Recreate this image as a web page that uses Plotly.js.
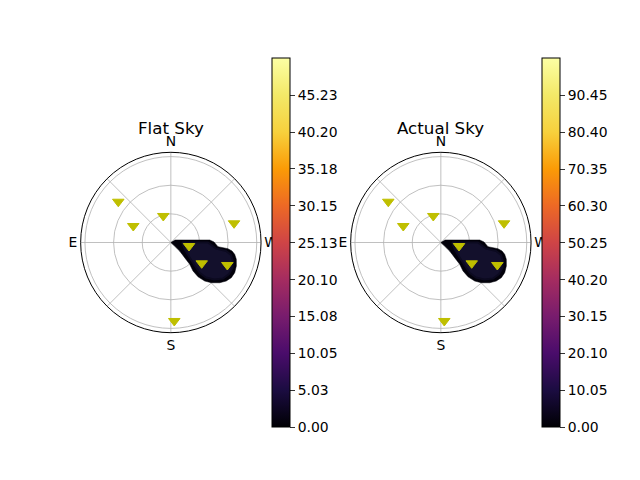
<!DOCTYPE html>
<html>
<head>
<meta charset="utf-8">
<script src="https://cdn.plot.ly/plotly-3.0.1.min.js"></script>
<style>html,body{margin:0;padding:0;background:#fff;}#chart{width:640px;height:480px;}</style>
</head>
<body>
<div id="chart"></div>
<script>
// ---- data ----
const panelTitles = ['Flat Sky', 'Actual Sky'];
const compassVals = [0, 45, 90, 135, 180, 225, 270, 315];
const compassText = ['N', '', 'E', '', 'S', '', 'W', ''];
const radialTicks = [30, 60, 90];
const radialMax = 94.5;

// yellow triangle markers (theta in deg from N toward E, r = zenith distance)
const markerTheta = [52.2, 66.3, 15.9, 286.9, 259.1, 236.0, 248.3, 182.5];
const markerR     = [69.7, 43.0, 28.9, 69.2, 19.4, 39.0, 63.7, 82.3];

// dark filled-contour blob: outer boundary (lowest level)
const blobTheta = [270, 301.1, 280.0, 275.9, 273.7, 270.7, 264.9, 264.3, 263.8, 262.1, 259.5, 255.6, 250.3, 244.7, 239.8, 235.2, 230.5, 225.2, 221.3, 218.4, 217.9, 220.9, 222.3, 226.2, 227.7, 270];
const blobR     = [0, 5.1, 15.1, 25.4, 40.8, 45.2, 49.6, 54.9, 60.2, 64.7, 68.0, 70.8, 72.9, 74.0, 73.3, 70.7, 66.3, 59.8, 53.7, 45.8, 37.8, 30.2, 21.5, 12.9, 5.5, 0];
// inner (next level) region
const coreTheta = [270, 270, 262.4, 261.2, 258.3, 253.4, 247.5, 241.6, 235.4, 229.4, 225.1, 223.7, 225.8, 231.0, 242.1, 270];
const coreR     = [11.7, 38.9, 47.7, 58.5, 64.4, 67.9, 69.9, 69.3, 66.4, 59.6, 52.0, 44.2, 35.3, 25.8, 16.8, 11.7];

// colorbar ranges and tick labels
const flatMax = 50.25;
const flatTicks = [0, 5.03, 10.05, 15.08, 20.10, 25.13, 30.15, 35.18, 40.20, 45.23];
const actualMax = 100.5;
const actualTicks = [0, 10.05, 20.10, 30.15, 40.20, 50.25, 60.30, 70.35, 80.40, 90.45];

const inferno = [
  [0.0, '#000004'], [0.1, '#1b0c41'], [0.2, '#4a0c6b'], [0.3, '#781c6d'],
  [0.4, '#a52c60'], [0.5, '#cf4446'], [0.6, '#ed6925'], [0.7, '#fb9b06'],
  [0.8, '#f7d13d'], [0.9, '#f3e968'], [1.0, '#fcffa4']
];

const FONT = 'DejaVu Sans, sans-serif';
const panels = [
  {sub: 'polar', dom: [80.65/640, 261.05/640], cbx: 272.3/640, max: flatMax, ticks: flatTicks, cx: 170.85/640},
  {sub: 'polar2', dom: [350.65/640, 531.05/640], cbx: 542.3/640, max: actualMax, ticks: actualTicks, cx: 440.85/640}
];

const traces = [];
const layout = {
  width: 640, height: 480,
  margin: {l: 0, r: 0, t: 0, b: 0},
  paper_bgcolor: '#fff',
  showlegend: false,
  font: {family: FONT, color: '#000', size: 13.9},
  annotations: []
};

panels.forEach((p, i) => {
  traces.push({
    type: 'scatterpolar', subplot: p.sub, mode: 'lines',
    theta: blobTheta, r: blobR, fill: 'toself',
    fillcolor: '#02010a', line: {color: '#02010a', width: 0.5}, hoverinfo: 'skip'
  });
  traces.push({
    type: 'scatterpolar', subplot: p.sub, mode: 'lines',
    theta: coreTheta, r: coreR, fill: 'toself',
    fillcolor: '#13102c', line: {color: '#0c0a20', width: 2}, hoverinfo: 'skip'
  });
  traces.push({
    type: 'scatterpolar', subplot: p.sub, mode: 'markers',
    theta: markerTheta, r: markerR,
    marker: {symbol: 'triangle-down', size: 10, color: '#bfbf00', line: {color: '#bfbf00', width: 1}}
  });
  // carrier of the colorbar
  traces.push({
    type: 'scatterpolar', subplot: p.sub, mode: 'markers',
    theta: [0, 0], r: [0, 0],
    marker: {
      size: 0, opacity: 0, color: [0, p.max], cmin: 0, cmax: p.max,
      colorscale: inferno, showscale: true,
      colorbar: {
        x: p.cbx, xanchor: 'left', xpad: 0,
        y: 1 - 58.3/480, yanchor: 'top', ypad: 0,
        len: (427.7 - 58.3)/480, lenmode: 'fraction',
        thickness: 18, thicknessmode: 'pixels',
        outlinewidth: 1, outlinecolor: '#000',
        tickmode: 'array', tickvals: p.ticks, ticktext: p.ticks.map(v => v.toFixed(2)),
        ticks: 'outside', ticklen: 5, tickwidth: 0.8, tickcolor: '#000',
        tickfont: {family: FONT, size: 13.9, color: '#000'}
      }
    },
    hoverinfo: 'skip'
  });
  layout[p.sub] = {
    domain: {x: p.dom, y: [(480 - 332.7)/480, (480 - 152.3)/480]},
    bgcolor: '#fff',
    angularaxis: {
      rotation: 90, direction: 'counterclockwise',
      tickmode: 'array', tickvals: compassVals, ticktext: compassText,
      showgrid: true, gridcolor: '#b0b0b0', gridwidth: 0.8,
      showline: true, linecolor: '#000', linewidth: 1,
      ticks: '', tickfont: {family: FONT, size: 13.9, color: '#000'}
    },
    radialaxis: {
      range: [0, radialMax], tickmode: 'array', tickvals: radialTicks,
      showgrid: true, gridcolor: '#b0b0b0', gridwidth: 0.8,
      showline: false, showticklabels: false, ticks: ''
    }
  };
  layout.annotations.push({
    text: panelTitles[i], xref: 'paper', yref: 'paper',
    x: p.cx, y: 1 - 128/480, xanchor: 'center', yanchor: 'middle',
    borderpad: 0, showarrow: false, font: {family: FONT, size: 16.7, color: '#000'}
  });
});

Plotly.newPlot('chart', traces, layout, {staticPlot: true, displayModeBar: false});
</script>
</body>
</html>
